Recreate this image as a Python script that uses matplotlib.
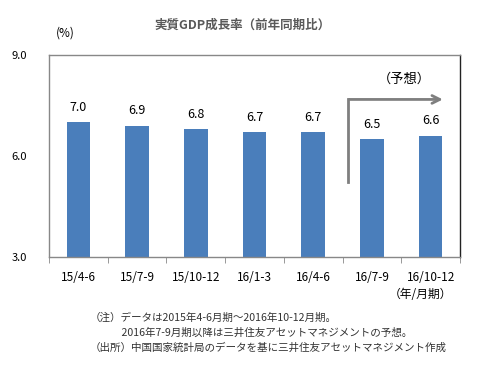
import matplotlib.pyplot as plt
import numpy as np

plt.rcParams['font.family'] = ['Noto Sans CJK JP', 'DejaVu Sans']

# データ
categories = ['15/4-6', '15/7-9', '15/10-12', '16/1-3', '16/4-6', '16/7-9', '16/10-12']
values = [7.0, 6.9, 6.8, 6.7, 6.7, 6.5, 6.6]
yticks = [3.0, 6.0, 9.0]

fig = plt.figure(figsize=(4.87, 3.66), dpi=100)
ax = fig.add_axes([49 / 487, 1 - 257 / 366, 411 / 487, 202 / 366])

x = np.arange(len(categories))
ax.bar(x, values, width=0.4, color='#4a7ebb', bottom=0)
for xi, v in zip(x, values):
    ax.text(xi, v + 0.25, f'{v:.1f}', ha='center', va='bottom', fontsize=9, color='black')

ax.set_xlim(-0.5, len(categories) - 0.5)
ax.set_ylim(3.0, 9.0)
ax.set_yticks(yticks)
ax.set_yticklabels([f'{t:.1f}' for t in yticks], fontsize=8)
ax.tick_params(axis='y', length=0, pad=16)

# x軸: 目盛りはカテゴリの間
ax.set_xticks(x)
ax.set_xticklabels(categories, fontsize=8.5)
ax.set_xticks(np.arange(len(categories) + 1) - 0.5, minor=True)
ax.tick_params(axis='x', which='major', length=0, pad=10)
ax.tick_params(axis='x', which='minor', length=4, color='#888888')

for s in ax.spines.values():
    s.set_color('#888888')
    s.set_linewidth(1)
ax.spines['right'].set_color('#222222')

# 予想の矢印
ax.plot([0.727, 0.727], [0.37, 0.78], transform=ax.transAxes, color='#7f7f7f', lw=2, clip_on=False)
ax.annotate('', xy=(0.965, 0.78), xytext=(0.724, 0.78), xycoords='axes fraction',
            arrowprops=dict(arrowstyle='->', color='#7f7f7f', lw=2, mutation_scale=14))
ax.text(0.865, 0.88, '（予想）', transform=ax.transAxes, ha='center', va='center', fontsize=9.5)

fig.text(243 / 487, 1 - 25 / 366, '実質GDP成長率（前年同期比）', ha='center', va='center',
         fontsize=9, color='#595959', fontweight='bold')
fig.text(65 / 487, 1 - 33 / 366, '(%)', ha='center', va='center', fontsize=8.5)
fig.text(452 / 487, 1 - 294 / 366, '（年/月期）', ha='right', va='center', fontsize=8.5)

notes = ['（注）データは2015年4-6月期～2016年10-12月期。',
         '　　　2016年7-9月期以降は三井住友アセットマネジメントの予想。',
         '（出所）中国国家統計局のデータを基に三井住友アセットマネジメント作成']
for i, n in enumerate(notes):
    fig.text(90 / 487, 1 - (318 + 15 * i) / 366, n, ha='left', va='center', fontsize=7.6, color='#333333')

fig.savefig('out.png', dpi=100)
